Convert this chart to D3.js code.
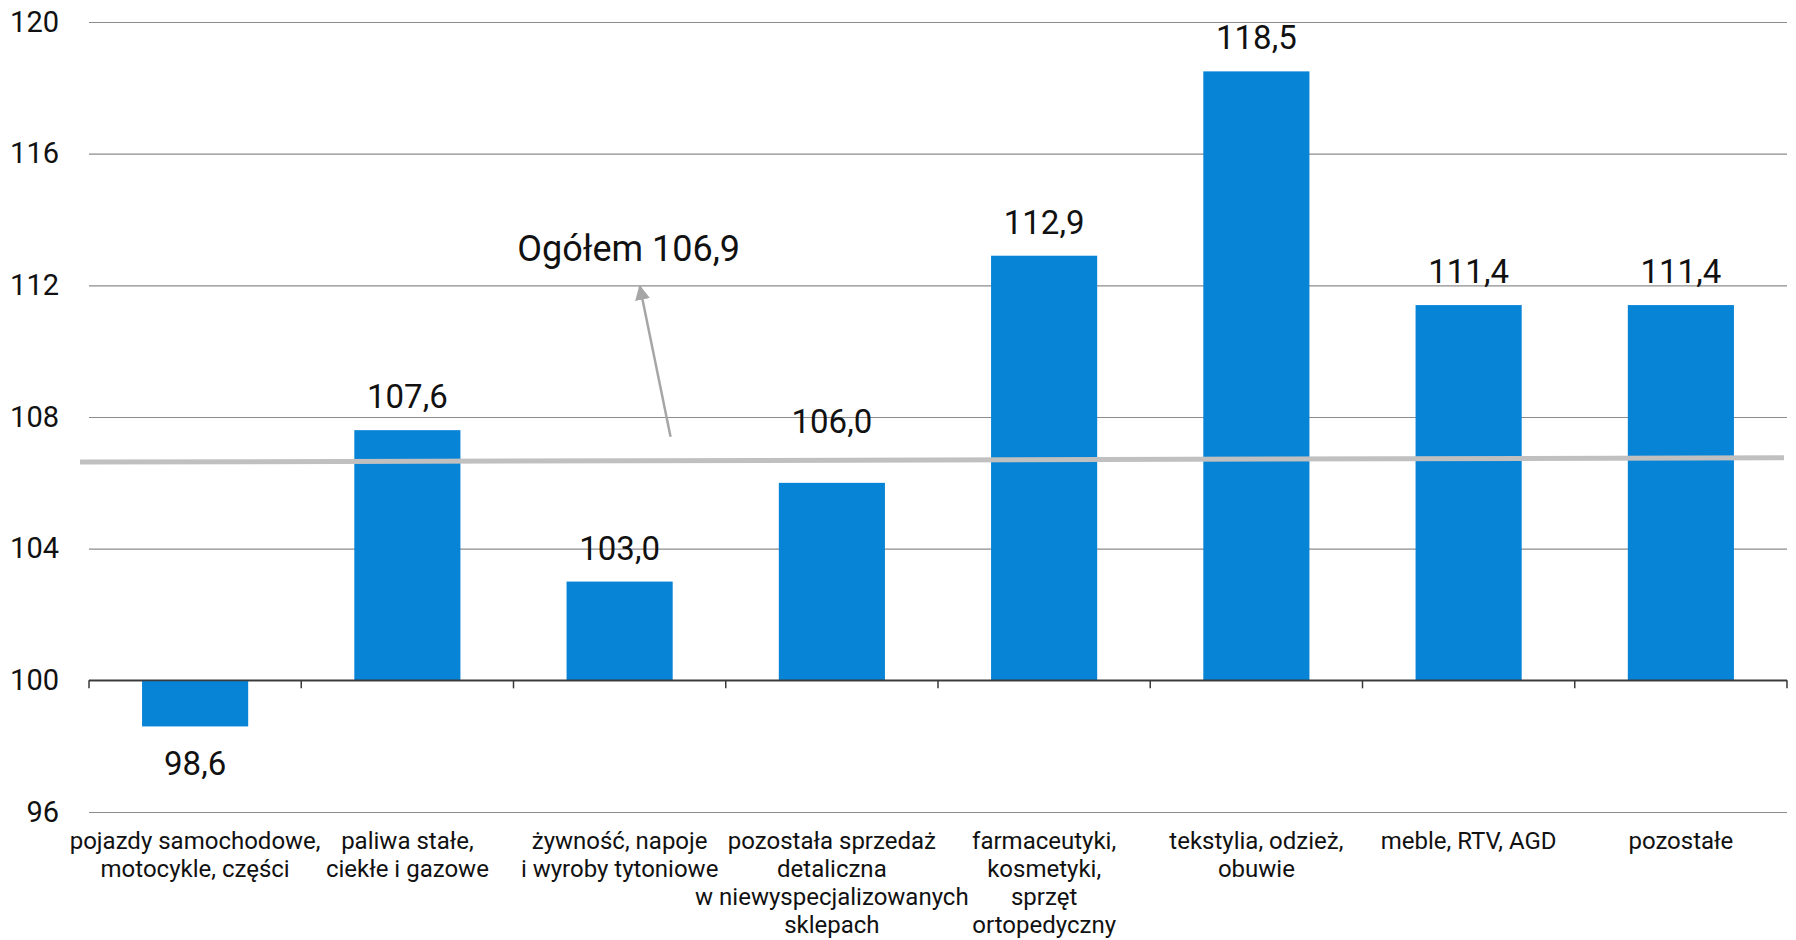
<!DOCTYPE html>
<html>
<head>
<meta charset="utf-8">
<script src="https://cdn.jsdelivr.net/npm/d3@7"></script>
<style>
body { margin: 0; background: #fff; }
text { font-family: Roboto, "Open Sans", sans-serif; fill: #111; }
</style>
</head>
<body>
<div id="chart"></div>
<script>
var categoryLines = [
  ["pojazdy samochodowe,", "motocykle, części"],
  ["paliwa stałe,", "ciekłe i gazowe"],
  ["żywność, napoje", "i wyroby tytoniowe"],
  ["pozostała sprzedaż", "detaliczna", "w niewyspecjalizowanych", "sklepach"],
  ["farmaceutyki,", "kosmetyki,", "sprzęt", "ortopedyczny"],
  ["tekstylia, odzież,", "obuwie"],
  ["meble, RTV, AGD"],
  ["pozostałe"]
];
var categories = categoryLines.map(function (l) { return l.join(" "); });
var values = [98.6, 107.6, 103.0, 106.0, 112.9, 118.5, 111.4, 111.4];
var yTicks = [96, 100, 104, 108, 112, 116, 120];
var baseValue = 100;
var totalValue = 106.9;
var totalLabel = "Ogółem 106,9";
// the grey "total" line as it is drawn in the picture (slightly tilted)
var totalLine = [106.63, 106.76];

var W = 1796, H = 940;
var margin = {top: 22, right: 9, bottom: 128, left: 89},
    width = W - margin.left - margin.right,
    height = H - margin.top - margin.bottom;

var fmt = function (v) { return d3.format(".1f")(v).replace(".", ","); };

var svg = d3.select("#chart").append("svg")
    .attr("width", W)
    .attr("height", H)
  .append("g")
    .attr("transform", "translate(" + margin.left + "," + margin.top + ")");

var x = d3.scaleBand()
    .domain(categories)
    .range([0, width])
    .paddingInner(0.5)
    .paddingOuter(0.25);

var y = d3.scaleLinear()
    .domain([d3.min(yTicks), d3.max(yTicks)])
    .range([height, 0]);

// gridlines + y labels
svg.append("g")
    .call(d3.axisLeft(y).tickValues(yTicks).tickSize(-width).tickFormat(d3.format("d")))
    .call(function (g) {
      g.select(".domain").remove();
      g.selectAll(".tick line").attr("stroke", "#8c8c8c").attr("stroke-width", 1.2);
      g.selectAll(".tick text")
          .attr("x", -30)
          .attr("font-size", 29)
          .attr("fill", "#111");
    });

// bars
svg.selectAll(".bar")
    .data(values)
    .enter().append("rect")
    .attr("class", "bar")
    .attr("x", function (d, i) { return x(categories[i]); })
    .attr("y", function (d) { return y(Math.max(d, baseValue)); })
    .attr("width", x.bandwidth())
    .attr("height", function (d) { return Math.abs(y(d) - y(baseValue)); })
    .attr("fill", "#0784d6");

// base axis at 100 with ticks between categories
var step = x.step();
var base = svg.append("g").attr("transform", "translate(0," + y(baseValue) + ")");
base.append("line").attr("x1", 0).attr("x2", width)
    .attr("stroke", "#3a3a3a").attr("stroke-width", 1.8);
base.selectAll(".btick")
    .data(d3.range(categories.length + 1))
    .enter().append("line")
    .attr("x1", function (i) { return i * step; })
    .attr("x2", function (i) { return i * step; })
    .attr("y1", 0).attr("y2", 8)
    .attr("stroke", "#3a3a3a").attr("stroke-width", 1.5);

// total line
var lineY0 = y(totalLine[0]), lineY1 = y(totalLine[1]);
svg.append("line")
    .attr("x1", -9).attr("x2", width - 3)
    .attr("y1", lineY0).attr("y2", lineY1)
    .attr("stroke", "#c0c0c0")
    .attr("stroke-width", 5);

// value labels
svg.selectAll(".val")
    .data(values)
    .enter().append("text")
    .attr("class", "val")
    .attr("text-anchor", "middle")
    .attr("font-size", 33)
    .attr("x", function (d, i) { return x(categories[i]) + x.bandwidth() / 2; })
    .attr("y", function (d) {
      if (d < baseValue) return y(d) + 49;
      var yy = y(d) - 22;
      var ly = (lineY0 + lineY1) / 2;
      if (Math.abs(yy - ly) < 28) yy = ly - 27;
      return yy;
    })
    .text(function (d) { return fmt(d); });

// category labels
var cat = svg.selectAll(".cat")
    .data(categoryLines)
    .enter().append("text")
    .attr("class", "cat")
    .attr("text-anchor", "middle")
    .attr("font-size", 24)
    .attr("transform", function (d, i) {
      return "translate(" + (x(categories[i]) + x.bandwidth() / 2) + "," + (height + 37) + ")";
    });
cat.selectAll("tspan")
    .data(function (d) { return d; })
    .enter().append("tspan")
    .attr("x", 0)
    .attr("y", function (d, j) { return j * 28; })
    .text(function (d) { return d; });

// annotation
var annCat = categories[2], bw = x.bandwidth();
var tail = [x(annCat) + bw * 0.98, y(107.4)],
    tip = [x(annCat) + bw * 0.69, y(112) + 1];
svg.append("defs").append("marker")
    .attr("id", "arr")
    .attr("viewBox", "0 0 10 10")
    .attr("refX", 9).attr("refY", 5)
    .attr("markerWidth", 6).attr("markerHeight", 6)
    .attr("markerUnits", "strokeWidth")
    .attr("orient", "auto")
  .append("path")
    .attr("d", "M0,0 L10,5 L0,10 Z")
    .attr("fill", "#a6a6a6");
svg.append("line")
    .attr("x1", tail[0]).attr("y1", tail[1])
    .attr("x2", tip[0]).attr("y2", tip[1])
    .attr("stroke", "#a6a6a6")
    .attr("stroke-width", 2.5)
    .attr("marker-end", "url(#arr)");
svg.append("text")
    .attr("x", x(annCat) + bw * 0.585)
    .attr("y", y(112) - 24)
    .attr("text-anchor", "middle")
    .attr("font-size", 36)
    .text(totalLabel);
</script>
</body>
</html>
